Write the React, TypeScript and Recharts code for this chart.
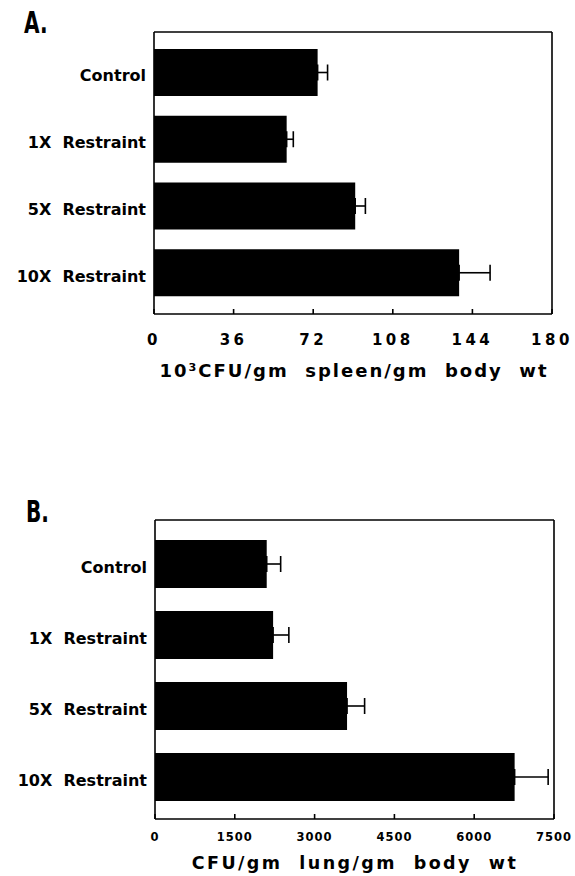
import { Bar, BarChart, ErrorBar, XAxis, YAxis } from "recharts";

const groups = ["Control", "1X  Restraint", "5X  Restraint", "10X  Restraint"];
const spleenMeans = [74, 60, 91, 138];
const spleenErrors = [4.5, 3.0, 4.6, 14];
const spleenTicks = [0, 36, 72, 108, 144, 180];
const lungMeans = [2100, 2220, 3610, 6760];
const lungErrors = [262, 296, 330, 630];
const lungTicks = [0, 1500, 3000, 4500, 6000, 7500];

const font = "'DejaVu Sans', sans-serif";
const line = { stroke: "#000", strokeWidth: 1.6 };

const rows = (means: number[], errs: number[]) =>
  groups.map((name, i) => ({ name, mean: means[i], err: [0, errs[i]] }));

function GroupTick(props: any) {
  const { x, y, payload } = props;
  return (
    <text x={x} y={y} dy={9} textAnchor="end" fontFamily={font} fontWeight="bold" fontSize={16} fill="#000" style={{ whiteSpace: "pre" }}>
      {payload.value}
    </text>
  );
}

function makeValueTick(dy: number, size: number, spacing: number) {
  return function ValueTick(props: any) {
    const { x, y, payload } = props;
    return (
      <text x={x} y={y} dy={dy} textAnchor="middle" fontFamily={font} fontWeight="bold" fontSize={size} letterSpacing={spacing} fill="#000">
        {payload.value}
      </text>
    );
  };
}

function Panel(props: {
  data: { name: string; mean: number; err: number[] }[];
  ticks: number[];
  height: number;
  margin: { top: number; right: number; bottom: number; left: number };
  axisWidth: number;
  barSize: number;
  pad: { top: number; bottom: number };
  tick: (p: any) => any;
}) {
  const max = props.ticks[props.ticks.length - 1];
  return (
    <BarChart width={575} height={props.height} data={props.data} layout="vertical" margin={props.margin}>
      <XAxis type="number" domain={[0, max]} ticks={props.ticks} axisLine={line} tickLine={line} tickSize={-5} tickMargin={0} height={30} tick={props.tick} interval={0} />
      <XAxis xAxisId="top" orientation="top" type="number" domain={[0, max]} height={1} axisLine={line} tick={false} tickLine={false} />
      <YAxis type="category" dataKey="name" width={props.axisWidth} axisLine={line} tickLine={false} tickSize={0} tickMargin={8} tick={<GroupTick />} padding={props.pad} interval={0} />
      <YAxis yAxisId="right" orientation="right" type="category" dataKey="name" width={1} axisLine={line} tick={false} tickLine={false} padding={props.pad} />
      <Bar dataKey="mean" fill="#000" barSize={props.barSize} isAnimationActive={false}>
        <ErrorBar dataKey="err" direction="x" width={8} stroke="#000" strokeWidth={1.6} />
      </Bar>
    </BarChart>
  );
}

export default function App() {
  return (
    <div style={{ position: "absolute", left: 0, top: 0, width: 575, height: 876, background: "#fff" }}>
      <div style={{ position: "absolute", left: 0, top: 0 }}>
        <Panel
          data={rows(spleenMeans, spleenErrors)}
          ticks={spleenTicks}
          height={400}
          margin={{ top: 31, right: 22, bottom: 56, left: 0 }}
          axisWidth={154}
          barSize={47}
          pad={{ top: 7, bottom: 8 }}
          tick={makeValueTick(36, 15, 3.5)}
        />
      </div>
      <div style={{ position: "absolute", left: 0, top: 440 }}>
        <Panel
          data={rows(lungMeans, lungErrors)}
          ticks={lungTicks}
          height={436}
          margin={{ top: 79, right: 20, bottom: 27, left: 0 }}
          axisWidth={155}
          barSize={48}
          pad={{ top: 8, bottom: 7 }}
          tick={makeValueTick(27, 11.5, 1)}
        />
      </div>
      <svg width={575} height={876} style={{ position: "absolute", left: 0, top: 0, pointerEvents: "none" }}>
        <text transform="translate(24,33) scale(0.72,1)" fontFamily="'DejaVu Sans Condensed', 'DejaVu Sans', sans-serif" fontWeight="bold" fontSize={31} fill="#000">A.</text>
        <text transform="translate(26,522) scale(0.72,1)" fontFamily="'DejaVu Sans Condensed', 'DejaVu Sans', sans-serif" fontWeight="bold" fontSize={31} fill="#000">B.</text>
        <text x={354} y={377} textAnchor="middle" fontFamily={font} fontWeight="bold" fontSize={18} letterSpacing={2} fill="#000" style={{ whiteSpace: "pre" }}>
          10³CFU/gm  spleen/gm  body  wt
        </text>
        <text x={355} y={869} textAnchor="middle" fontFamily={font} fontWeight="bold" fontSize={17.5} letterSpacing={2.4} fill="#000" style={{ whiteSpace: "pre" }}>
          CFU/gm  lung/gm  body  wt
        </text>
      </svg>
    </div>
  );
}
